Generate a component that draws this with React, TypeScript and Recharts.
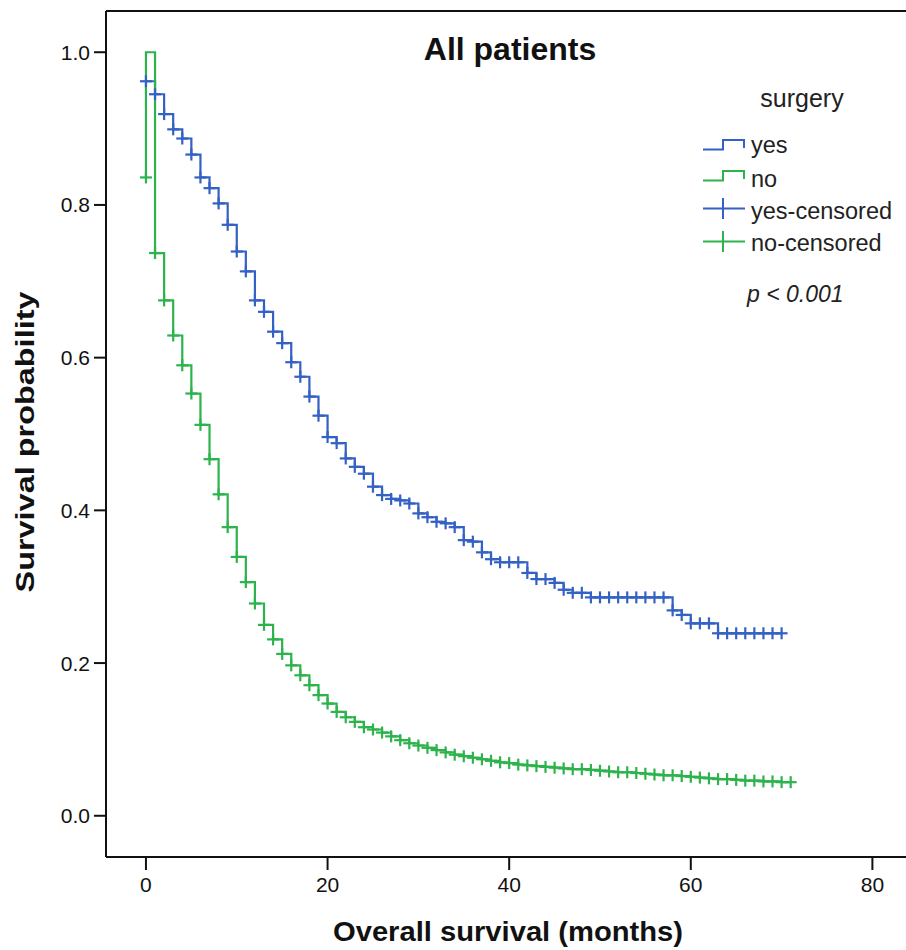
import React from "react";
import {
  ComposedChart,
  Line,
  Scatter,
  XAxis,
  YAxis,
  ReferenceLine,
  Customized,
} from "recharts";

// ---- Data ----
const yesTimes = [
  0, 1, 2, 3, 4, 5, 6, 7, 8, 9,
  10, 11, 12, 13, 14, 15, 16, 17, 18, 19,
  20, 21, 22, 23, 24, 25, 26, 27, 28, 29,
  30, 31, 32, 33, 34, 35, 36, 37, 38, 39,
  40, 41, 42, 43, 44, 45, 46, 47, 48, 49,
  50, 51, 52, 53, 54, 55, 56, 57, 58, 59,
  60, 61, 62, 63, 64, 65, 66, 67, 68, 69, 70,
];
const yesSurv = [
  0.962, 0.945, 0.919, 0.899, 0.887, 0.866, 0.836, 0.822, 0.802, 0.774,
  0.739, 0.713, 0.675, 0.66, 0.634, 0.619, 0.594, 0.575, 0.549, 0.524,
  0.496, 0.488, 0.468, 0.457, 0.448, 0.431, 0.42, 0.415, 0.413, 0.409,
  0.396, 0.391, 0.385, 0.383, 0.378, 0.361, 0.359, 0.345, 0.336, 0.332,
  0.332, 0.332, 0.318, 0.31, 0.31, 0.305, 0.296, 0.292, 0.292, 0.286,
  0.286, 0.286, 0.286, 0.286, 0.286, 0.286, 0.286, 0.286, 0.269, 0.263,
  0.252, 0.252, 0.252, 0.239, 0.239, 0.239, 0.239, 0.239, 0.239, 0.239, 0.239,
];

const noTimes = [
  0, 1, 2, 3, 4, 5, 6, 7, 8, 9,
  10, 11, 12, 13, 14, 15, 16, 17, 18, 19,
  20, 21, 22, 23, 24, 25, 26, 27, 28, 29,
  30, 31, 32, 33, 34, 35, 36, 37, 38, 39,
  40, 41, 42, 43, 44, 45, 46, 47, 48, 49,
  50, 51, 52, 53, 54, 55, 56, 57, 58, 59,
  60, 61, 62, 63, 64, 65, 66, 67, 68, 69,
  70, 71,
];
const noSurv = [
  0.836, 0.737, 0.675, 0.629, 0.59, 0.553, 0.512, 0.467, 0.421, 0.378,
  0.339, 0.306, 0.278, 0.25, 0.231, 0.212, 0.197, 0.184, 0.171, 0.158,
  0.147, 0.136, 0.129, 0.123, 0.116, 0.113, 0.109, 0.104, 0.099, 0.095,
  0.092, 0.089, 0.086, 0.083, 0.08, 0.078, 0.076, 0.074, 0.072, 0.07,
  0.069, 0.067, 0.066, 0.065, 0.064, 0.063, 0.062, 0.061, 0.061, 0.06,
  0.059, 0.058, 0.057, 0.057, 0.056, 0.055, 0.054, 0.053, 0.053, 0.052,
  0.051, 0.05, 0.049, 0.048, 0.048, 0.047, 0.046, 0.046, 0.045, 0.045,
  0.044, 0.044,
];
// the "no" curve is drawn rising to 1.0 at t = 0 before its first drop
const noStartTop = 1.0;

const xTicks = [0, 20, 40, 60, 80];
const yTicks = [0, 0.2, 0.4, 0.6, 0.8, 1.0];
const X_DOMAIN: [number, number] = [-4.4, 83.7];
const Y_DOMAIN: [number, number] = [-0.054, 1.054];

const BLUE = "#3361c4";
const GREEN = "#2db34c";
const FONT = "'Liberation Sans', Arial, Helvetica, sans-serif";

const yesPoints = yesTimes.map((t, i) => ({ t, s: yesSurv[i] }));
const noPoints = noTimes.map((t, i) => ({ t, s: noSurv[i] }));
const noLine = [noPoints[0], { t: noTimes[0], s: noStartTop }, ...noPoints.slice(1)];

const makeCross = (color: string) => (props: any) => {
  const { cx, cy } = props;
  if (cx == null || cy == null) return <g />;
  return (
    <g>
      <line x1={cx - 6} x2={cx + 6} y1={cy} y2={cy} stroke={color} strokeWidth={2.2} />
      <line x1={cx} x2={cx} y1={cy - 6} y2={cy + 6} stroke={color} strokeWidth={2.2} />
    </g>
  );
};

const Overlay = () => (
  <g fontFamily={FONT}>
    <text x={510} y={60} textAnchor="middle" fontSize={32} fontWeight="bold" fill="#111">
      All patients
    </text>
    <text
      x={34}
      y={442}
      textAnchor="middle"
      fontSize={26}
      fontWeight="bold"
      fill="#111"
      transform="rotate(-90, 34, 442)"
      textLength={301}
      lengthAdjust="spacingAndGlyphs"
    >
      Survival probability
    </text>
    <text
      x={508}
      y={941}
      textAnchor="middle"
      fontSize={27}
      fontWeight="bold"
      fill="#111"
      textLength={350}
      lengthAdjust="spacingAndGlyphs"
    >
      Overall survival (months)
    </text>
    {/* legend */}
    <text x={802} y={107} textAnchor="middle" fontSize={25} fill="#222">
      surgery
    </text>
    <path d="M703,149.5 H723 V140 H744 V148" fill="none" stroke={BLUE} strokeWidth={2} />
    <text x={751} y={153} fontSize={23.5} fill="#222">yes</text>
    <path d="M703,180.5 H723 V171 H744 V179" fill="none" stroke={GREEN} strokeWidth={2} />
    <text x={751} y={186.5} fontSize={23.5} fill="#222">no</text>
    <line x1={703} x2={745} y1={208.5} y2={208.5} stroke={BLUE} strokeWidth={2} />
    <line x1={723} x2={723} y1={198} y2={219} stroke={BLUE} strokeWidth={2} />
    <text x={751} y={218.5} fontSize={23.5} fill="#222">yes-censored</text>
    <line x1={703} x2={745} y1={241.5} y2={241.5} stroke={GREEN} strokeWidth={2} />
    <line x1={723} x2={723} y1={231} y2={252} stroke={GREEN} strokeWidth={2} />
    <text x={751} y={251} fontSize={23.5} fill="#222">no-censored</text>
    <text x={747} y={302} fontSize={23} fontStyle="italic" fill="#222">
      p &lt; 0.001
    </text>
  </g>
);

export default function App() {
  return (
    <div style={{ position: "fixed", left: 0, top: 0, width: 906, height: 950, background: "#fff" }}>
      <ComposedChart
        width={906}
        height={950}
        margin={{ top: 11, right: 0, bottom: 0, left: 0 }}
      >
        <XAxis
          type="number"
          dataKey="t"
          domain={X_DOMAIN}
          ticks={xTicks}
          allowDataOverflow
          height={93}
          tickSize={13}
          tickMargin={7}
          axisLine={{ stroke: "#111", strokeWidth: 2 }}
          tickLine={{ stroke: "#111", strokeWidth: 2 }}
          tick={{ fill: "#111", fontSize: 21, fontFamily: FONT }}
        />
        <YAxis
          type="number"
          dataKey="s"
          domain={Y_DOMAIN}
          ticks={yTicks}
          allowDataOverflow
          width={106}
          tickSize={12}
          tickMargin={4}
          tickFormatter={(v: number) => v.toFixed(1)}
          axisLine={{ stroke: "#111", strokeWidth: 2 }}
          tickLine={{ stroke: "#111", strokeWidth: 2 }}
          tick={{ fill: "#111", fontSize: 21, fontFamily: FONT }}
        />
        <ReferenceLine y={Y_DOMAIN[1]} stroke="#111" strokeWidth={2} ifOverflow="visible" />
        <Line
          data={yesPoints}
          dataKey="s"
          type="stepAfter"
          stroke={BLUE}
          strokeWidth={2.2}
          dot={false}
          activeDot={false}
          isAnimationActive={false}
        />
        <Line
          data={noLine}
          dataKey="s"
          type="stepAfter"
          stroke={GREEN}
          strokeWidth={2.2}
          dot={false}
          activeDot={false}
          isAnimationActive={false}
        />
        <Scatter data={yesPoints} dataKey="s" shape={makeCross(BLUE)} isAnimationActive={false} />
        <Scatter data={noPoints} dataKey="s" shape={makeCross(GREEN)} isAnimationActive={false} />
        <Customized component={Overlay} />
      </ComposedChart>
    </div>
  );
}
